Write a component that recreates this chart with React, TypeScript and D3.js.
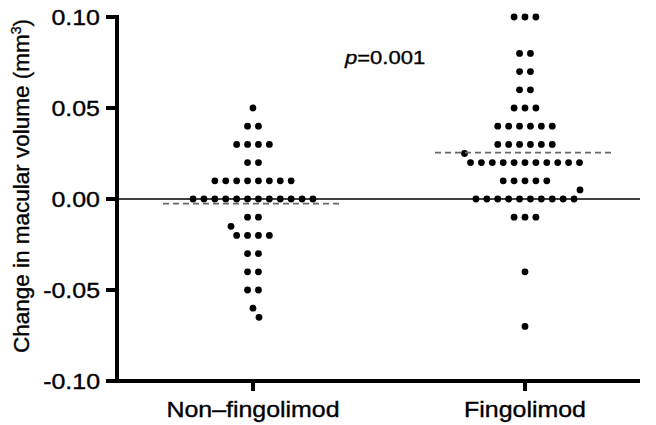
import * as d3 from "d3";
import { useEffect, useRef } from "react";

// groups and their individual measurements (change in macular volume, mm3)
const categories = ["Non\u2013fingolimod", "Fingolimod"];

const nonFingolimod = [
  0.05,
  0.04, 0.04,
  0.03, 0.03, 0.03, 0.03,
  0.02, 0.02,
  0.01, 0.01, 0.01, 0.01, 0.01, 0.01, 0.01, 0.01,
  0, 0, 0, 0, 0, 0, 0, 0, 0, 0, 0, 0,
  -0.01, -0.01,
  -0.015,
  -0.02, -0.02, -0.02, -0.02,
  -0.03, -0.03,
  -0.04, -0.04,
  -0.05, -0.05,
  -0.06,
  -0.065,
];

const fingolimod = [
  0.1, 0.1, 0.1,
  0.08, 0.08,
  0.07, 0.07,
  0.06, 0.06,
  0.05, 0.05, 0.05,
  0.04, 0.04, 0.04, 0.04, 0.04, 0.04,
  0.03, 0.03, 0.03, 0.03, 0.03, 0.03,
  0.025,
  0.02, 0.02, 0.02, 0.02, 0.02, 0.02, 0.02, 0.02, 0.02, 0.02, 0.02,
  0.01, 0.01, 0.01, 0.01, 0.01,
  0.005,
  0, 0, 0, 0, 0, 0, 0, 0, 0, 0,
  -0.01, -0.01, -0.01,
  -0.04,
  -0.07,
];

const yTicks = [-0.1, -0.05, 0, 0.05, 0.1];
const pLabel = "0.001";

const W = 656;
const H = 425;
const margin = { top: 17, right: 16, bottom: 44, left: 117 };
const font = "'Liberation Sans', Arial, sans-serif";
const stretch = 1.16; // the original figure is a bit wider than it is tall

// rows of equal values are centred; dots that would touch other rows get pushed sideways
function layoutDots(values: number[], y: (v: number) => number, spacing: number) {
  const rows = d3.groups(values, (v) => v)
    .sort((a, b) => b[1].length - a[1].length || b[0] - a[0]);
  const placed: { dx: number; cy: number; v: number }[] = [];
  let side = -1;
  rows.forEach(([v, arr]) => {
    const n = arr.length;
    const cy = y(v);
    const offsets = d3.range(n).map((i) => (i - (n - 1) / 2) * spacing);
    const hits = (shift: number) =>
      offsets.some((o) =>
        placed.some((p) => Math.hypot(p.dx - (o + shift), p.cy - cy) < spacing * 0.98)
      );
    let shift = 0;
    if (hits(0)) {
      for (let s = 0.5; s < 200; s += 0.5) {
        if (!hits(side * s)) { shift = side * s; break; }
        if (!hits(-side * s)) { shift = -side * s; break; }
      }
      side = -side;
    }
    offsets.forEach((o) => placed.push({ dx: o + shift, cy, v }));
  });
  return placed;
}

const App = () => {
  const ref = useRef<SVGSVGElement>(null);

  useEffect(() => {
    const svg = d3.select(ref.current);
    svg.selectAll("*").remove();

    const x = d3.scalePoint<string>()
      .domain(categories)
      .range([margin.left, margin.left + 544])
      .padding(0.5);
    const y = d3.scaleLinear().domain([-0.1, 0.1]).range([H - margin.bottom, margin.top]);
    const xEnd = W - margin.right;
    const fmt = (d: number) => (d < 0 ? "-" + d3.format(".2f")(-d) : d3.format(".2f")(d));

    const label = (tx: number, ty: number, size: number, anchor: string) =>
      svg.append("text")
        .attr("transform", `translate(${tx},${ty}) scale(${stretch},1)`)
        .attr("text-anchor", anchor)
        .attr("stroke", "#000").attr("stroke-width", 0.35)
        .style("font-family", font)
        .style("font-size", size + "px");

    // zero line
    svg.append("line")
      .attr("x1", margin.left).attr("x2", xEnd)
      .attr("y1", y(0)).attr("y2", y(0))
      .attr("stroke", "#000").attr("stroke-width", 1.6);

    const groups = [nonFingolimod, fingolimod];
    groups.forEach((vals, gi) => {
      const cx = x(categories[gi])!;
      const dots = layoutDots(vals, y, 10.9);
      svg.append("g").selectAll("circle")
        .data(dots)
        .join("circle")
        .attr("cx", (d) => cx + d.dx)
        .attr("cy", (d) => d.cy)
        .attr("r", 3.4)
        .attr("fill", "#000");

      const m = d3.mean(vals)!;
      svg.append("line")
        .attr("x1", cx - 90).attr("x2", cx + 90)
        .attr("y1", y(m)).attr("y2", y(m))
        .attr("stroke", "#666").attr("stroke-width", 1.8)
        .attr("stroke-dasharray", "6,4");
    });

    // y axis
    yTicks.forEach((t) => {
      svg.append("line")
        .attr("x1", margin.left - 11).attr("x2", margin.left)
        .attr("y1", y(t)).attr("y2", y(t))
        .attr("stroke", "#000").attr("stroke-width", 4);
      label(margin.left - 17, y(t) + 7.8, 21.5, "end").text(fmt(t));
    });
    svg.append("line")
      .attr("x1", margin.left).attr("x2", margin.left)
      .attr("y1", y(0.1) - 2).attr("y2", y(-0.1) + 2)
      .attr("stroke", "#000").attr("stroke-width", 4);

    // x axis
    svg.append("line")
      .attr("x1", margin.left).attr("x2", xEnd)
      .attr("y1", y(-0.1)).attr("y2", y(-0.1))
      .attr("stroke", "#000").attr("stroke-width", 4);
    categories.forEach((c) => {
      svg.append("line")
        .attr("x1", x(c)!).attr("x2", x(c)!)
        .attr("y1", y(-0.1)).attr("y2", y(-0.1) + 10)
        .attr("stroke", "#000").attr("stroke-width", 4);
      label(x(c)!, y(-0.1) + 36, 21.5, "middle").text(c);
    });

    // y title
    const t = svg.append("text")
      .attr("transform", `translate(29,186) rotate(-90)`)
      .attr("text-anchor", "middle")
      .attr("stroke", "#000").attr("stroke-width", 0.35)
      .style("font-family", font).style("font-size", "22.5px");
    t.append("tspan").text("Change in macular volume (mm");
    t.append("tspan").attr("dy", -8).style("font-size", "14px").text("3");
    t.append("tspan").attr("dy", 8).text(")");

    // p-value
    const p = label(345, 64, 19, "start");
    p.append("tspan").style("font-style", "italic").text("p");
    p.append("tspan").text("=" + pLabel);
  }, []);

  return (
    <svg ref={ref} width={W} height={H}
      style={{ position: "absolute", left: 0, top: 0, background: "#fff" }} />
  );
};

export default App;
